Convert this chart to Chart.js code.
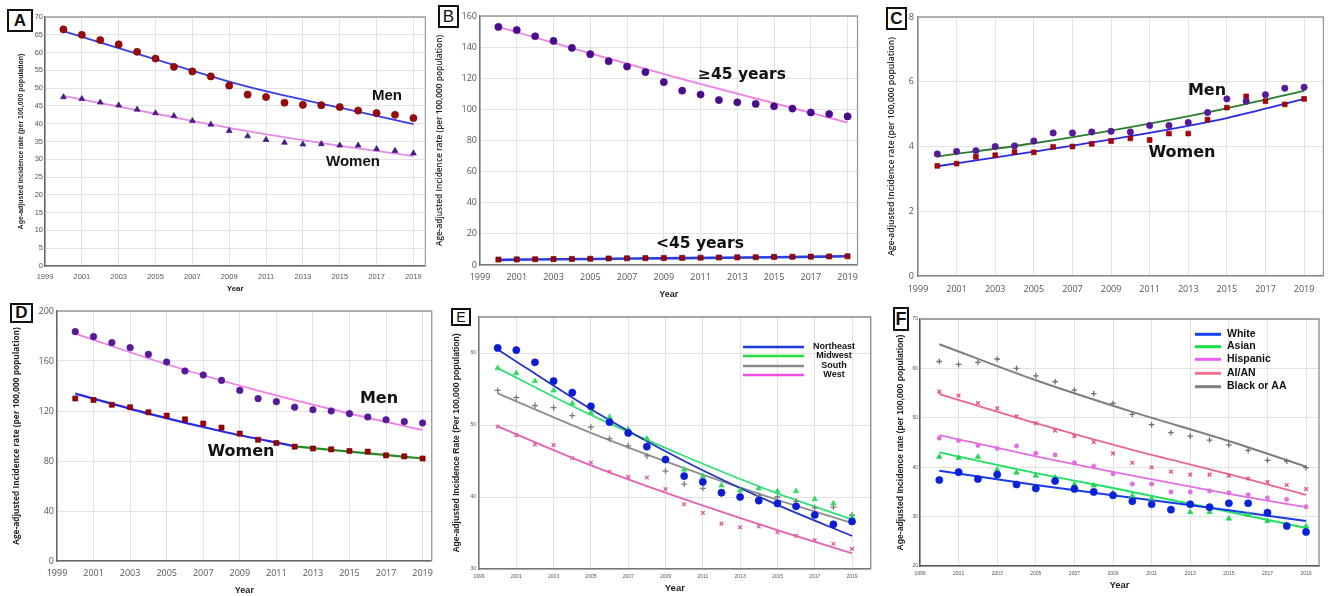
<!DOCTYPE html>
<html>
<head>
<meta charset="utf-8">
<script src="https://cdn.jsdelivr.net/npm/chart.js@4.4.1/dist/chart.umd.min.js"></script>
<style>
	body { margin: 0; background: #fff; width: 1328px; height: 596px; overflow: hidden; position: relative; }
	.panel { position: absolute; }
	.tag { position: absolute; background: #fff; border: 2px solid #111; box-sizing: border-box;
		font: bold 17px Arial, "Liberation Sans", sans-serif; color: #111;
		display: flex; align-items: center; justify-content: center; }
</style>
</head>
<body>
<div class="panel" style="left:0;top:0"><canvas id="chartA" width="430" height="300"></canvas></div>
<div class="panel" style="left:430px;top:0"><canvas id="chartB" width="435" height="300"></canvas></div>
<div class="panel" style="left:865px;top:0"><canvas id="chartC" width="463" height="300"></canvas></div>
<div class="panel" style="left:0;top:300px"><canvas id="chartD" width="440" height="296"></canvas></div>
<div class="panel" style="left:440px;top:300px"><canvas id="chartE" width="436" height="296"></canvas></div>
<div class="panel" style="left:876px;top:300px"><canvas id="chartF" width="452" height="296"></canvas></div>

<div class="tag" style="left:7px;top:9px;width:26px;height:23px">A</div>
<div class="tag" style="left:438px;top:5px;width:21px;height:23px;font-weight:normal">B</div>
<div class="tag" style="left:886px;top:7px;width:21px;height:23px">C</div>
<div class="tag" style="left:10px;top:303px;width:23px;height:20px">D</div>
<div class="tag" style="left:451px;top:308px;width:20px;height:18px;font-size:14px;font-weight:normal">E</div>
<div class="tag" style="left:893px;top:307px;width:16px;height:24px;font-size:18px">F</div>

<script>
// ---- data ----
const years = [2000, 2001, 2002, 2003, 2004, 2005, 2006, 2007, 2008, 2009, 2010, 2011, 2012, 2013, 2014, 2015, 2016, 2017, 2018, 2019];
const tickYears = [1999, 2001, 2003, 2005, 2007, 2009, 2011, 2013, 2015, 2017, 2019];
const fitYears = [2000, 2005, 2010, 2015, 2019];

// A: sex
const aMen = [66.5, 65.0, 63.5, 62.3, 60.2, 58.3, 56.0, 54.7, 53.3, 50.7, 48.2, 47.5, 45.9, 45.3, 45.2, 44.7, 43.7, 43.0, 42.5, 41.6];
const aWomen = [47.5, 47.0, 46.0, 45.2, 44.0, 43.0, 42.2, 40.8, 39.8, 38.0, 36.5, 35.5, 34.7, 34.2, 34.3, 33.9, 33.9, 32.9, 32.4, 31.7];
const aMenFit = [66.0, 58.1, 50.4, 44.5, 39.9];
const aWomenFit = [47.8, 42.8, 37.9, 33.8, 30.9];
const aYTicks = [0, 5, 10, 15, 20, 25, 30, 35, 40, 45, 50, 55, 60, 65, 70];

// B: age
const bOld = [153, 151, 147, 144, 139.5, 135.5, 131, 127.5, 124, 117.5, 112, 109.5, 106, 104.5, 103.5, 102, 100.5, 98, 97, 95.5];
const bYoung = [3.5, 3.6, 3.7, 3.8, 3.9, 4.0, 4.2, 4.3, 4.4, 4.5, 4.6, 4.7, 4.8, 4.9, 5.0, 5.2, 5.3, 5.4, 5.5, 5.6];
const bOldFit = [153, 136, 119.5, 104, 91.5];
const bYoungFit = [3.3, 3.9, 4.4, 5.0, 5.6];
const bYTicks = [0, 20, 40, 60, 80, 100, 120, 140, 160];

// C: under 45, by sex
const cMen = [3.77, 3.85, 3.87, 4.0, 4.02, 4.17, 4.42, 4.42, 4.45, 4.47, 4.45, 4.65, 4.65, 4.74, 5.05, 5.47, 5.4, 5.6, 5.8, 5.83];
const cWomen = [3.4, 3.47, 3.68, 3.73, 3.83, 3.82, 3.99, 4.0, 4.08, 4.17, 4.25, 4.2, 4.4, 4.4, 4.83, 5.2, 5.55, 5.4, 5.3, 5.47];
const cMenFit = [3.69, 4.1, 4.6, 5.18, 5.72];
const cWomenFit = [3.39, 3.84, 4.32, 4.88, 5.47];
const cYTicks = [0, 2, 4, 6, 8];

// D: 45 and over, by sex
const dMen = [183.5, 179.5, 174.7, 170.7, 165.3, 159.2, 152, 148.8, 144.5, 136.5, 129.9, 127.5, 123, 121, 120, 117.9, 115.2, 113, 111.5, 110.4];
const dWomen = [130, 128.8, 125, 123, 119, 116.3, 113.3, 110, 106.7, 101.9, 97, 94.4, 91.5, 90, 89.3, 88, 87.5, 84.5, 83.7, 82];
const dMenFit = [181.9, 157.4, 136.3, 118, 104.8];
const dWomenFit1Years = [2000, 2004, 2008, 2012];
const dWomenFit1 = [133.9, 117.9, 103.8, 91.7];
const dWomenFit2Years = [2012, 2015, 2019];
const dWomenFit2 = [91.7, 87.5, 82];
const dYTicks = [0, 40, 80, 120, 160, 200];

// E: region
const eNortheast = [60.7, 60.4, 58.7, 56.1, 54.5, 52.6, 50.4, 48.9, 47.0, 45.2, 42.9, 42.1, 40.6, 40.0, 39.5, 39.1, 38.7, 37.5, 36.2, 36.6];
const eMidwest = [57.9, 57.2, 56.1, 54.8, 53.0, 51.7, 51.1, 49.4, 48.1, 45.3, 43.8, 42.9, 41.6, 40.9, 41.2, 40.8, 40.8, 39.7, 39.1, 37.2];
const eSouth = [54.8, 53.8, 52.7, 52.4, 51.3, 49.7, 48.1, 47.1, 45.7, 43.6, 41.8, 41.2, 40.4, 40.2, 40.2, 40.0, 39.4, 38.5, 38.6, 37.5];
const eWest = [49.8, 48.6, 47.3, 47.2, 45.4, 44.8, 43.5, 42.8, 42.7, 41.1, 39.0, 37.8, 36.3, 35.8, 35.9, 35.1, 34.6, 34.0, 33.5, 32.8];
const eNortheastFit = [60.5, 52.2, 45.0, 38.9, 34.6];
const eMidwestFit = [57.9, 51.4, 45.7, 40.5, 36.9];
const eSouthFit = [54.4, 48.9, 44.0, 39.6, 36.4];
const eWestFit = [49.8, 44.4, 39.7, 35.4, 32.2];
const eYTicks = [30, 40, 50, 60];

// F: race / ethnicity
const fWhite = [37.4, 39.0, 37.6, 38.5, 36.5, 35.7, 37.2, 35.6, 35.0, 34.3, 33.1, 32.5, 31.4, 32.5, 31.9, 32.7, 32.7, 30.8, 28.1, 26.9];
const fAsian = [42.1, 41.9, 42.1, 39.5, 38.9, 38.3, 37.9, 36.5, 36.3, 34.8, 34.2, 33.6, 31.5, 30.9, 30.9, 29.6, 30.4, 29.1, 28.2, 28.0];
const fHispanic = [45.9, 45.4, 44.4, 43.8, 44.3, 42.8, 42.5, 40.9, 40.2, 38.7, 36.6, 36.6, 35.0, 35.0, 35.2, 34.8, 34.4, 33.8, 33.5, 32.0];
const fAian = [55.3, 54.5, 53.0, 51.9, 50.3, 48.9, 47.4, 46.3, 45.1, 42.8, 40.9, 40.0, 39.1, 38.5, 38.5, 38.3, 37.7, 37.0, 36.4, 35.6];
const fBlack = [61.4, 60.8, 61.2, 61.9, 60.0, 58.5, 57.3, 55.6, 54.9, 52.9, 50.7, 48.6, 47.0, 46.3, 45.5, 44.5, 43.4, 41.4, 41.2, 39.9];
const fWhiteFit = [39.3, 36.4, 33.8, 31.3, 29.1];
const fAsianFit = [43.0, 38.8, 35.0, 31.0, 27.7];
const fHispanicFit = [46.5, 42.2, 38.3, 34.6, 31.9];
const fAianFit = [54.8, 48.9, 43.5, 38.6, 34.4];
const fBlackFit = [64.9, 57.6, 51.2, 45.3, 40.1];
const fYTicks = [20, 30, 40, 50, 60, 70];

const ARIAL = 'Arial, "Liberation Sans", sans-serif';
const OPEN = '"Open Sans", Arial, sans-serif';
const DEJAVU = '"DejaVu Sans", Arial, sans-serif';

function pts(xs, ys) {
	return xs.map((x, i) => ({ x: x, y: ys[i] }));
}

function dots(values, style, radius, color, border) {
	return {
		data: pts(years, values),
		showLine: false,
		pointStyle: style,
		pointRadius: radius,
		pointBorderWidth: style == 'cross' || style == 'crossRot' || style == 'star' ? 1.3 : 0.6,
		pointBackgroundColor: color,
		pointBorderColor: border || color,
		order: 1
	};
}

function fit(xs, values, color, width) {
	return {
		data: pts(xs, values),
		borderColor: color,
		borderWidth: width || 1.8,
		pointRadius: 0,
		fill: false,
		cubicInterpolationMode: 'monotone',
		order: 2
	};
}

// top + right frame of the plot area
const framePlugin = {
	id: 'frame',
	beforeDatasetsDraw(chart, args, opts) {
		const { ctx, chartArea: a } = chart;
		ctx.save();
		ctx.strokeStyle = opts.color || '#9a9a9a';
		ctx.lineWidth = 1.3;
		ctx.beginPath();
		ctx.moveTo(a.left, a.top);
		ctx.lineTo(a.right, a.top);
		ctx.lineTo(a.right, a.bottom);
		ctx.stroke();
		ctx.restore();
	}
};

// free text labels on the plot ("Men", "Women", ...)
const notesPlugin = {
	id: 'notes',
	afterDatasetsDraw(chart, args, opts) {
		if (!opts.items) return;
		const ctx = chart.ctx;
		ctx.save();
		ctx.fillStyle = '#111';
		ctx.textAlign = 'center';
		ctx.textBaseline = 'middle';
		opts.items.forEach(n => {
			ctx.font = n.font;
			ctx.fillText(n.text, n.x, n.y);
		});
		ctx.restore();
	}
};

// legend drawn inside the plot
const keyPlugin = {
	id: 'key',
	afterDatasetsDraw(chart, args, opts) {
		if (!opts.labels) return;
		const ctx = chart.ctx;
		ctx.save();
		ctx.font = opts.font;
		ctx.textBaseline = 'middle';
		ctx.textAlign = opts.align;
		opts.labels.forEach((label, i) => {
			ctx.strokeStyle = opts.colors[i];
			ctx.lineWidth = opts.lineWidth;
			ctx.beginPath();
			ctx.moveTo(opts.x1, opts.ys[i]);
			ctx.lineTo(opts.x2, opts.ys[i]);
			ctx.stroke();
			ctx.fillStyle = '#111';
			ctx.fillText(label, opts.textX, opts.ys[i] - 0.5);
		});
		ctx.restore();
	}
};

function panel(id, o) {
	return new Chart(document.getElementById(id), {
		type: 'line',
		data: { datasets: o.datasets },
		options: {
			responsive: false,
			animation: false,
			events: [],
			layout: { padding: { top: o.pad[0], right: o.pad[1], bottom: 0, left: 0 } },
			plugins: {
				legend: { display: false },
				tooltip: { enabled: false },
				frame: { color: o.frameColor },
				notes: { items: o.notes },
				key: o.key || {}
			},
			scales: {
				x: {
					type: 'linear',
					min: 1999,
					max: o.xMax,
					afterBuildTicks: s => { s.ticks = tickYears.map(v => ({ value: v })); },
					afterFit: s => { s.height = o.xh; },
					grid: { color: '#e3e3e3', drawTicks: false },
					border: { color: o.axisColor, width: 1.5 },
					ticks: { font: { size: o.tickSize, family: o.tickFamily }, color: '#555', padding: o.xPad,
						maxRotation: 0, autoSkip: false, callback: v => String(v) },
					title: o.xTitle ? { display: true, text: 'Year', color: '#222',
						font: { size: o.xTitle.size, weight: 'bold', family: ARIAL },
						padding: { top: 0, bottom: o.xTitle.pad } } : { display: false }
				},
				y: {
					min: o.yTicks[0],
					max: o.yMax,
					afterBuildTicks: s => { s.ticks = o.yTicks.map(v => ({ value: v })); },
					afterFit: s => { s.width = o.yw; },
					grid: { color: '#e3e3e3', drawTicks: false },
					border: { color: o.axisColor, width: 1.5 },
					ticks: { font: { size: o.yTickSize || o.tickSize, family: o.tickFamily }, color: '#555',
						padding: o.yPad, autoSkip: false, callback: v => String(v) },
					title: { display: true, text: o.yTitle.text, color: '#222',
						font: { size: o.yTitle.size, weight: o.yTitle.weight || 'bold', family: o.yTitle.family || ARIAL },
						padding: { top: o.yTitle.pad, bottom: 0 } }
				}
			}
		},
		plugins: [framePlugin, notesPlugin, keyPlugin]
	});
}

const rateTitle = 'Age-adjusted Incidence rate (per 100,000 population)';

panel('chartA', {
	datasets: [
		dots(aMen, 'circle', 3.6, '#9c0b0b', '#6a0505'),
		dots(aWomen, 'triangle', 3.4, '#4b1b8c', '#3a0f70'),
		fit(fitYears, aMenFit, '#3c3ce6'),
		fit(fitYears, aWomenFit, '#e48be6')
	],
	pad: [17, 3], xMax: 2019.65, xh: 34, yw: 45, yMax: 70, yTicks: aYTicks,
	tickSize: 7.5, tickFamily: ARIAL, xPad: 6, yPad: 2, axisColor: '#666', frameColor: '#a0a0a0',
	xTitle: { size: 8, pad: 6 },
	yTitle: { text: 'Age-adjusted incidence rate (per 100,000 population)', size: 7, pad: 16.5 },
	notes: [
		{ text: 'Men', x: 387, y: 96, font: 'bold 15px ' + ARIAL },
		{ text: 'Women', x: 353, y: 162, font: 'bold 15px ' + ARIAL }
	]
});

panel('chartB', {
	datasets: [
		dots(bOld, 'circle', 3.6, '#4a0c8c'),
		dots(bYoung, 'rect', 3.6, '#a00000', '#500000'),
		fit(fitYears, bOldFit, '#f07ee8'),
		fit(fitYears, bYoungFit, '#2a3ce0', 2.6)
	],
	pad: [16, 3], xMax: 2019.54, xh: 35, yw: 50, yMax: 160, yTicks: bYTicks,
	tickSize: 9, tickFamily: OPEN, xPad: 7, yPad: 3, axisColor: '#777', frameColor: '#9a9a9a',
	xTitle: { size: 9, pad: 0 },
	yTitle: { text: rateTitle, size: 8.3, weight: '600', family: OPEN, pad: 4.9 },
	notes: [
		{ text: '\u226545 years', x: 312, y: 75, font: 'bold 15.5px ' + DEJAVU },
		{ text: '<45 years', x: 270, y: 244, font: 'bold 15.5px ' + DEJAVU }
	]
});

panel('chartC', {
	datasets: [
		dots(cMen, 'circle', 3.2, '#561a98'),
		dots(cWomen, 'rect', 3.4, '#b00000', '#700000'),
		fit(fitYears, cMenFit, '#2a7d2a'),
		fit(fitYears, cWomenFit, '#2a2ae6')
	],
	pad: [17, 4], xMax: 2020, xh: 24, yw: 53, yMax: 8, yTicks: cYTicks,
	tickSize: 9, tickFamily: OPEN, xPad: 8, yPad: 4, axisColor: '#888', frameColor: '#9a9a9a',
	xTitle: null,
	yTitle: { text: rateTitle, size: 8.6, weight: '600', family: OPEN, pad: 21.6 },
	notes: [
		{ text: 'Men', x: 342, y: 91, font: 'bold 16px ' + DEJAVU },
		{ text: 'Women', x: 317, y: 153, font: 'bold 16px ' + DEJAVU }
	]
});

panel('chartD', {
	datasets: [
		dots(dMen, 'circle', 3.3, '#561a98'),
		dots(dWomen, 'rect', 3.6, '#a00000', '#600000'),
		fit(fitYears, dMenFit, '#f07ee8'),
		fit(dWomenFit1Years, dWomenFit1, '#2a2ae6', 2.2),
		fit(dWomenFit2Years, dWomenFit2, '#2a8a2a', 2.2)
	],
	pad: [11, 3], xMax: 2019.5, xh: 35, yw: 57, yMax: 200, yTicks: dYTicks,
	tickSize: 9, tickFamily: OPEN, xPad: 7, yPad: 3, axisColor: '#666', frameColor: '#9a9a9a',
	xTitle: { size: 9, pad: 0 },
	yTitle: { text: 'Age-adjusted Incidence rate (per 100,000 population)', size: 8.3, weight: 'bold', family: OPEN, pad: 11.9 },
	notes: [
		{ text: 'Men', x: 379, y: 99, font: 'bold 16px ' + DEJAVU },
		{ text: 'Women', x: 241, y: 152, font: 'bold 16px ' + DEJAVU }
	]
});

panel('chartE', {
	datasets: [
		dots(eNortheast, 'circle', 3.6, '#0b1cd4'),
		dots(eMidwest, 'triangle', 3.2, '#34d862'),
		dots(eSouth, 'cross', 3, '#7a7a7a'),
		dots(eWest, 'crossRot', 2.6, '#e0609a'),
		fit(fitYears, eNortheastFit, '#2434c4'),
		fit(fitYears, eMidwestFit, '#30e078'),
		fit(fitYears, eSouthFit, '#8f8f8f'),
		fit(fitYears, eWestFit, '#e462b4')
	],
	pad: [17, 3], xMax: 2020, xh: 27, yw: 39, yMax: 65, yTicks: eYTicks,
	tickSize: 5, tickFamily: ARIAL, xPad: 4.5, yPad: 3, axisColor: '#777', frameColor: '#8a8a8a',
	xTitle: { size: 9.5, pad: 1.6 },
	yTitle: { text: 'Age-adjusted Incidence Rate (Per 100,000 population)', size: 8.6, pad: 11.6 },
	notes: [],
	key: {
		labels: ['Northeast', 'Midwest', 'South', 'West'],
		colors: ['#1a3ae0', '#22e040', '#8a8a8a', '#f050e0'],
		x1: 303, x2: 364, textX: 394, ys: [47, 56, 66, 75],
		align: 'center', lineWidth: 2.4, font: 'bold 9px ' + ARIAL
	}
});

panel('chartF', {
	datasets: [
		dots(fWhite, 'circle', 3.6, '#0a22d8'),
		dots(fAsian, 'triangle', 3.2, '#22d454'),
		dots(fHispanic, 'star', 2.6, '#e070e0'),
		dots(fAian, 'crossRot', 2.6, '#e8507e'),
		dots(fBlack, 'cross', 2.8, '#707070'),
		fit(fitYears, fWhiteFit, '#1a3af0', 2),
		fit(fitYears, fAsianFit, '#20e064', 2),
		fit(fitYears, fHispanicFit, '#e070e0'),
		fit(fitYears, fAianFit, '#ec6690'),
		fit(fitYears, fBlackFit, '#7e7e7e', 2)
	],
	pad: [19, 9], xMax: 2019.67, xh: 30, yw: 44, yMax: 70, yTicks: fYTicks,
	tickSize: 5, tickFamily: ARIAL, xPad: 4.5, yPad: 2, axisColor: '#555', frameColor: '#8a8a8a',
	xTitle: { size: 9.5, pad: 5.3 },
	yTitle: { text: 'Age-adjusted Incidence rate (per 100,000 population)', size: 8.6, pad: 19.6 },
	notes: [],
	key: {
		labels: ['White', 'Asian', 'Hispanic', 'AI/AN', 'Black or AA'],
		colors: ['#1a40f0', '#10e040', '#f060f0', '#f07090', '#808080'],
		x1: 319, x2: 345, textX: 351, ys: [34.3, 46.7, 59.3, 73.3, 86.7],
		align: 'left', lineWidth: 3, font: 'bold 10.5px ' + ARIAL
	}
});
</script>
</body>
</html>
